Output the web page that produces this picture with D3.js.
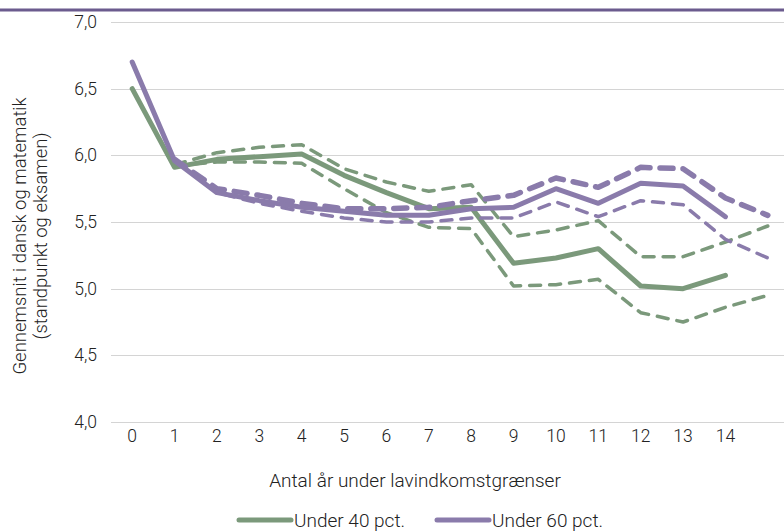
<!DOCTYPE HTML>
<html>
<head>
<meta charset='utf-8'>
<title>Gennemsnit efter antal år under lavindkomstgrænser</title>
<script src='https://d3js.org/d3.v7.min.js'></script>
<style>
    body { margin: 0; background: #fff; }
    svg text {
        font-family: Roboto, 'Noto Sans', sans-serif;
        font-weight: 300;
        fill: #222;
    }
    .grid line { stroke: #d4d4d4; stroke-width: 1px; shape-rendering: crispEdges; }
    .line { fill: none; stroke-linecap: round; stroke-linejoin: round; }
</style>
</head>
<body>
<svg width='784' height='532' id='chart'></svg>
<script>
// x categories (antal år) and their tick labels; the last category has no label
const years = [0, 1, 2, 3, 4, 5, 6, 7, 8, 9, 10, 11, 12, 13, 14, 15];
const tickLabels = ['0', '1', '2', '3', '4', '5', '6', '7', '8', '9', '10', '11', '12', '13', '14', ''];
const yTicks = [4.0, 4.5, 5.0, 5.5, 6.0, 6.5, 7.0];

// Under 40 pct. - mean and confidence bounds
const under40 = [6.50, 5.91, 5.97, 5.99, 6.01, 5.85, 5.72, 5.60, 5.61, 5.19, 5.23, 5.30, 5.02, 5.00, 5.10, null];
const under40Upper = [null, 5.93, 6.02, 6.06, 6.08, 5.90, 5.80, 5.73, 5.78, 5.39, 5.44, 5.51, 5.24, 5.24, 5.35, 5.47];
const under40Lower = [null, 5.92, 5.95, 5.95, 5.94, 5.75, 5.57, 5.46, 5.45, 5.02, 5.03, 5.07, 4.82, 4.75, 4.86, 4.95];

// Under 60 pct. - mean and confidence bounds
const under60 = [6.70, 5.96, 5.72, 5.66, 5.61, 5.58, 5.55, 5.55, 5.60, 5.61, 5.75, 5.64, 5.79, 5.77, 5.54, null];
const under60Upper = [null, 5.97, 5.75, 5.70, 5.64, 5.60, 5.60, 5.61, 5.66, 5.70, 5.83, 5.76, 5.91, 5.90, 5.68, 5.55];
const under60Lower = [null, 5.96, 5.72, 5.64, 5.58, 5.53, 5.50, 5.50, 5.53, 5.53, 5.65, 5.54, 5.66, 5.63, 5.37, 5.23];

const green = '#7b997b';
const purple = '#8a7bab';

const svg = d3.select('#chart');

// top rule
svg.append('line')
    .attr('x1', 0).attr('x2', 784)
    .attr('y1', 10).attr('y2', 10)
    .attr('stroke', '#6b5b8e')
    .attr('stroke-width', 3);

const x = d3.scaleBand().domain(years).range([111, 789]);
const y = d3.scaleLinear().domain([4, 7]).range([422, 22]);
const cx = d => x(d) + x.bandwidth() / 2;

// gridlines
svg.append('g')
    .attr('class', 'grid')
    .selectAll('line')
    .data(yTicks)
    .join('line')
    .attr('x1', 111).attr('x2', 784)
    .attr('y1', d => Math.round(y(d)) + 0.5)
    .attr('y2', d => Math.round(y(d)) + 0.5);

// y axis labels
const yAxis = svg.append('g')
    .attr('transform', 'translate(97,0)')
    .call(d3.axisLeft(y).tickValues(yTicks).tickSize(0).tickPadding(0)
        .tickFormat(d => d3.format('.1f')(d).replace('.', ',')));
yAxis.select('.domain').remove();
yAxis.selectAll('text').style('font-size', '17.5px').attr('font-family', null);

// x axis labels
const xAxis = svg.append('g')
    .attr('transform', 'translate(0,430)')
    .call(d3.axisBottom(x).tickSize(0).tickPadding(0)
        .tickFormat((d, i) => tickLabels[i]));
xAxis.select('.domain').remove();
xAxis.selectAll('text').style('font-size', '17.5px').attr('font-family', null);

// axis titles
svg.append('text')
    .attr('x', 415).attr('y', 487)
    .attr('text-anchor', 'middle')
    .style('font-size', '19px')
    .text('Antal år under lavindkomstgrænser');

const yTitle = svg.append('text')
    .attr('transform', 'translate(0,236) rotate(-90)')
    .attr('text-anchor', 'middle')
    .style('font-size', '18.5px');
yTitle.append('tspan').attr('x', 0).attr('y', 26).text('Gennemsnit i dansk og matematik');
yTitle.append('tspan').attr('x', 0).attr('y', 47).text('(standpunkt og eksamen)');

const line = d3.line()
    .defined(d => d.v != null)
    .x(d => cx(d.year))
    .y(d => y(d.v));

const series = [
    { values: under40Upper, color: green, width: 3.5, dash: '11 9' },
    { values: under40Lower, color: green, width: 3.5, dash: '11 9' },
    { values: under40, color: green, width: 5, dash: null },
    { values: under60Upper, color: purple, width: 5.5, dash: '13 10' },
    { values: under60Lower, color: purple, width: 3.5, dash: '11 9' },
    { values: under60, color: purple, width: 5, dash: null }
];

series.forEach(s => {
    svg.append('path')
        .datum(years.map((yr, i) => ({ year: yr, v: s.values[i] })))
        .attr('class', 'line')
        .attr('stroke', s.color)
        .attr('stroke-width', s.width)
        .attr('stroke-dasharray', s.dash)
        .attr('d', line);
});

// legend
const legend = [
    { label: 'Under 40 pct.', color: green, x: 237 },
    { label: 'Under 60 pct.', color: purple, x: 435 }
];
const lg = svg.append('g').selectAll('g').data(legend).join('g')
    .attr('transform', d => `translate(${d.x},520)`);
lg.append('line')
    .attr('x1', 2).attr('x2', 54)
    .attr('stroke', d => d.color)
    .attr('stroke-width', 5)
    .attr('stroke-linecap', 'round');
lg.append('text')
    .attr('x', 57).attr('dy', '0.35em')
    .style('font-size', '19px')
    .text(d => d.label);
</script>
</body>
</html>
